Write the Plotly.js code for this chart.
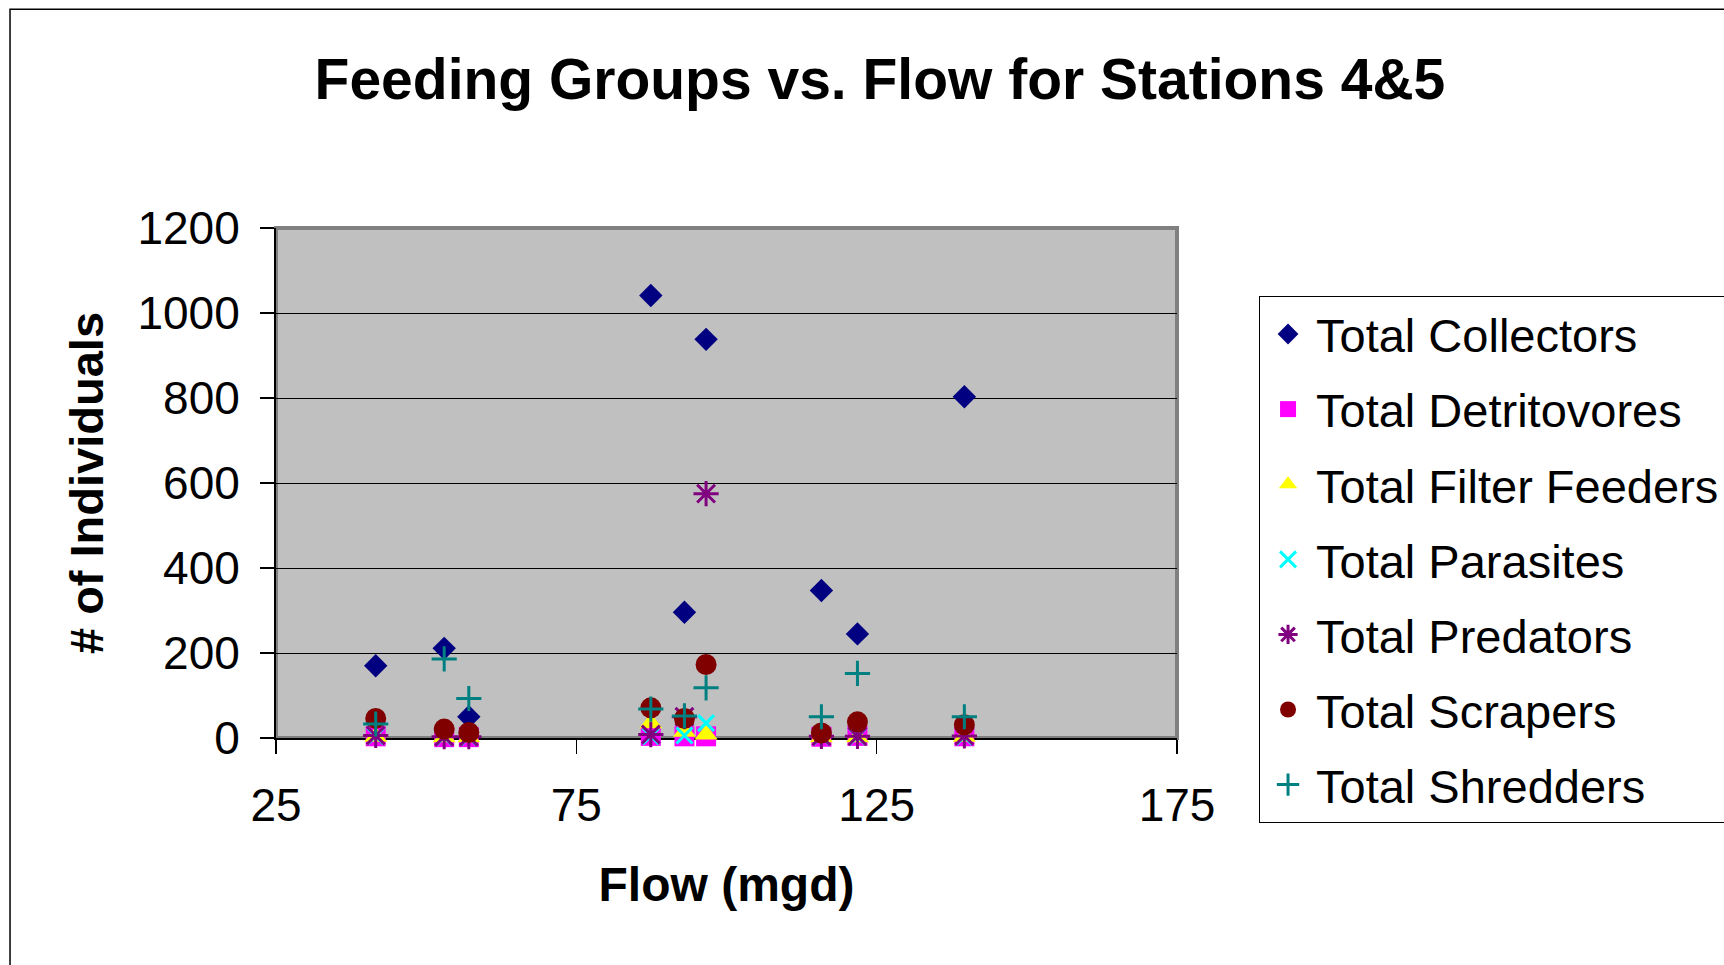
<!DOCTYPE html>
<html>
<head>
<meta charset="utf-8">
<script src="https://cdn.plot.ly/plotly-3.0.1.min.js"></script>
<style>
  html, body { margin: 0; padding: 0; background: #ffffff; }
  #chart { width: 1724px; height: 965px; }
</style>
</head>
<body>
<div id="chart"></div>
<script>
// Flow at each sampling visit (mgd)
const flow = [41.6, 53.0, 57.1, 87.4, 93.0, 96.6, 115.8, 121.8, 139.6];

// Individuals counted per feeding group
const collectors   = [170, 211, 50, 1041, 296, 938, 347, 245, 803];
const detritovores = [4, 2, 2, 5, 4, 4, 3, 5, 4];
const filterFeeders = [3, 2, 2, 35, 15, 8, 2, 2, 3];
const parasites    = [4, 2, 2, 4, 6, 35, 3, 3, 3];
const predators    = [6, 3, 3, 8, 50, 575, 4, 4, 5];
const scrapers     = [46, 21, 13, 71, 46, 173, 12, 38, 31];
const shredders    = [33, 186, 93, 68, 52, 118, 50, 152, 50];

const FONT = 'Arial, "Liberation Sans", sans-serif';

function series(name, y, symbol, color, size, lineWidth) {
  return {
    type: 'scatter',
    mode: 'markers',
    name: name,
    legendgroup: name,
    x: flow,
    y: y,
    cliponaxis: false,
    marker: {
      symbol: symbol,
      color: color,
      size: size,
      line: { width: lineWidth, color: color }
    }
  };
}

const traces = [
  series('Total Collectors', collectors, 'diamond', '#000080', 18, 0),
  series('Total Detritovores', detritovores, 'square', '#FF00FF', 20, 0),
  series('Total Filter Feeders', filterFeeders, 'triangle-up', '#FFFF00', 20, 0),
  series('Total Parasites', parasites, 'x-thin-open', '#00FFFF', 16, 3),
  series('Total Predators', predators, 'asterisk-open', '#800080', 21, 3),
  series('Total Scrapers', scrapers, 'circle', '#800000', 21, 0),
  series('Total Shredders', shredders, 'cross-thin-open', '#008080', 18, 3)
];

const layout = {
  width: 1724,
  height: 965,
  margin: { l: 276, r: 547, t: 228, b: 227, pad: 0, autoexpand: false },
  paper_bgcolor: '#ffffff',
  plot_bgcolor: '#C0C0C0',
  font: { family: FONT, color: '#000000', size: 46 },
  title: {
    text: 'Feeding Groups vs. Flow for Stations 4&5',
    font: { family: FONT, size: 57, color: '#000000', weight: 'bold' },
    xref: 'container', yref: 'container',
    x: 0.5104, y: 0.918,
    xanchor: 'center', yanchor: 'middle'
  },
  xaxis: {
    range: [25, 175],
    tick0: 25, dtick: 50,
    showgrid: false,
    zeroline: false,
    showline: true, linecolor: '#000000', linewidth: 2,
    ticks: 'outside', ticklen: 14, tickwidth: 1.5, tickcolor: '#000000',
    ticklabelstandoff: 12,
    tickfont: { family: FONT, size: 46, color: '#000000' },
    layer: 'below traces',
    title: {
      text: 'Flow (mgd)',
      font: { family: FONT, size: 48, color: '#000000', weight: 'bold' },
      standoff: 37
    }
  },
  yaxis: {
    range: [0, 1200],
    dtick: 200,
    showgrid: true, gridcolor: '#000000', gridwidth: 1,
    zeroline: false,
    showline: true, linecolor: '#000000', linewidth: 2,
    ticks: 'outside', ticklen: 14, tickwidth: 1.5, tickcolor: '#000000',
    ticklabelstandoff: 11,
    tickfont: { family: FONT, size: 46, color: '#000000' },
    layer: 'below traces',
    title: {
      text: '# of Individuals',
      font: { family: FONT, size: 47, color: '#000000', weight: 'bold' },
      standoff: 19
    }
  },
  legend: {
    xref: 'container', yref: 'container',
    x: 0.7303, y: 0.6933,
    xanchor: 'left', yanchor: 'top',
    bgcolor: '#ffffff',
    bordercolor: '#000000', borderwidth: 1,
    tracegroupgap: 11,
    itemwidth: 46,
    entrywidth: 560,
    maxheight: 700,
    font: { family: FONT, size: 47, color: '#000000' }
  },
  shapes: [
    // chart frame
    {
      type: 'rect', xref: 'paper', yref: 'paper',
      x0: -0.2952, x1: 1.8, y0: -0.7, y1: 1.4288,
      line: { color: '#000000', width: 1.5 },
      fillcolor: 'rgba(0,0,0,0)', layer: 'below'
    },
    // plot area border
    {
      type: 'rect', xref: 'paper', yref: 'paper',
      x0: 0, x1: 1, y0: 0, y1: 1,
      line: { color: '#808080', width: 4 },
      fillcolor: 'rgba(0,0,0,0)', layer: 'below'
    }
  ]
};

Plotly.newPlot('chart', traces, layout, { displayModeBar: false, staticPlot: true });
</script>
</body>
</html>
